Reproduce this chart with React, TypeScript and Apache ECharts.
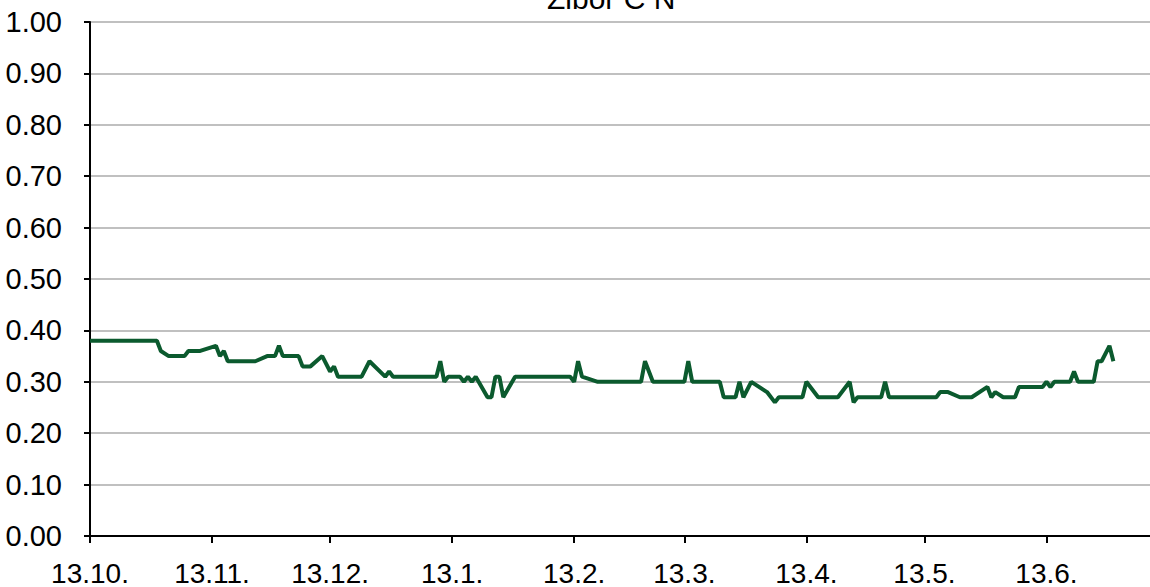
import React, { useEffect, useRef } from "react";
import * as echarts from "echarts";

const titleText = "Zibor C N";

const dates: string[] = [
  "2012-10-13", "2012-10-30", "2012-10-31", "2012-11-02", "2012-11-06", "2012-11-07", "2012-11-10",
  "2012-11-14", "2012-11-15", "2012-11-16", "2012-11-17", "2012-11-24", "2012-11-27", "2012-11-29",
  "2012-11-30", "2012-12-01", "2012-12-05", "2012-12-06", "2012-12-08", "2012-12-11", "2012-12-13",
  "2012-12-14", "2012-12-15", "2012-12-21", "2012-12-23", "2012-12-27", "2012-12-28", "2012-12-29",
  "2013-01-09", "2013-01-10", "2013-01-11", "2013-01-12", "2013-01-15", "2013-01-16", "2013-01-17",
  "2013-01-18", "2013-01-19", "2013-01-22", "2013-01-23", "2013-01-24", "2013-01-25", "2013-01-26",
  "2013-01-29", "2013-02-12", "2013-02-13", "2013-02-14", "2013-02-15", "2013-02-19", "2013-03-02",
  "2013-03-03", "2013-03-05", "2013-03-13", "2013-03-14", "2013-03-15", "2013-03-22", "2013-03-23",
  "2013-03-26", "2013-03-27", "2013-03-28", "2013-03-30", "2013-04-03", "2013-04-05", "2013-04-06",
  "2013-04-12", "2013-04-13", "2013-04-16", "2013-04-21", "2013-04-24", "2013-04-25", "2013-04-26",
  "2013-05-02", "2013-05-03", "2013-05-04", "2013-05-16", "2013-05-17", "2013-05-19", "2013-05-22",
  "2013-05-25", "2013-05-29", "2013-05-30", "2013-05-31", "2013-06-02", "2013-06-05", "2013-06-06",
  "2013-06-12", "2013-06-13", "2013-06-14", "2013-06-15", "2013-06-19", "2013-06-20", "2013-06-21",
  "2013-06-25", "2013-06-26", "2013-06-27", "2013-06-29", "2013-06-30",
];

const values: number[] = [
  0.38, 0.38, 0.36, 0.35, 0.35, 0.36, 0.36,
  0.37, 0.35, 0.36, 0.34, 0.34, 0.35, 0.35,
  0.37, 0.35, 0.35, 0.33, 0.33, 0.35, 0.32,
  0.33, 0.31, 0.31, 0.34, 0.31, 0.32, 0.31,
  0.31, 0.34, 0.30, 0.31, 0.31, 0.30, 0.31,
  0.30, 0.31, 0.27, 0.27, 0.31, 0.31, 0.27,
  0.31, 0.31, 0.30, 0.34, 0.31, 0.30, 0.30,
  0.34, 0.30, 0.30, 0.34, 0.30, 0.30, 0.27,
  0.27, 0.30, 0.27, 0.30, 0.28, 0.26, 0.27,
  0.27, 0.30, 0.27, 0.27, 0.30, 0.26, 0.27,
  0.27, 0.30, 0.27, 0.27, 0.28, 0.28, 0.27,
  0.27, 0.29, 0.27, 0.28, 0.27, 0.27, 0.29,
  0.29, 0.30, 0.29, 0.30, 0.30, 0.32, 0.30,
  0.30, 0.34, 0.34, 0.37, 0.34,
];

const tickDates: string[] = [
  "2012-10-13", "2012-11-13", "2012-12-13", "2013-01-13", "2013-02-13",
  "2013-03-13", "2013-04-13", "2013-05-13", "2013-06-13",
];

const axisStart = "2012-10-13";
const axisSpanDays = 269.3;

const DAY = 86400000;

function ts(s: string): number {
  const [y, m, d] = s.split("-").map(Number);
  return Date.UTC(y, m - 1, d);
}

function dayOffset(s: string): number {
  return Math.round((ts(s) - ts(axisStart)) / DAY);
}

const FONT = "'Liberation Sans', Arial, sans-serif";

export default function App() {
  const ref = useRef<HTMLDivElement>(null);

  useEffect(() => {
    document.body.style.margin = "0";
    if (!ref.current) return;
    const chart = echarts.init(ref.current, undefined, { renderer: "svg" });
    const tickDays = tickDates.map(dayOffset);
    const startT = ts(axisStart);

    chart.setOption({
      animation: false,
      backgroundColor: "#ffffff",
      grid: { left: 90, right: 0, top: 22, bottom: 50, containLabel: false },
      graphic: [
        {
          type: "text",
          left: 547,
          top: -17,
          style: {
            text: titleText,
            font: `30px ${FONT}`,
            fill: "#000000",
          },
        },
      ],
      xAxis: {
        type: "value",
        min: 0,
        max: axisSpanDays,
        axisLine: { show: true, lineStyle: { color: "#000000", width: 2 } },
        axisTick: {
          show: true,
          inside: false,
          length: 7,
          customValues: tickDays,
          lineStyle: { color: "#000000", width: 2 },
        },
        axisLabel: {
          customValues: tickDays,
          margin: 23,
          color: "#000000",
          fontSize: 28,
          fontFamily: FONT,
          hideOverlap: false,
          formatter: (v: number) => {
            const d = new Date(startT + Math.round(v) * DAY);
            return `${d.getUTCDate()}.${d.getUTCMonth() + 1}.`;
          },
        },
        splitLine: { show: false },
      },
      yAxis: {
        type: "value",
        min: 0,
        max: 1,
        interval: 0.1,
        axisLine: { show: true, lineStyle: { color: "#000000", width: 2 } },
        axisTick: { show: true, inside: false, length: 6, lineStyle: { color: "#000000", width: 2 } },
        axisLabel: {
          margin: 28,
          color: "#000000",
          fontSize: 29,
          fontFamily: FONT,
          formatter: (v: number) => v.toFixed(2),
        },
        splitLine: { show: true, lineStyle: { color: "#c0c0c0", width: 2 } },
      },
      series: [
        {
          type: "line",
          data: dates.map((d, i) => [dayOffset(d), values[i]]),
          showSymbol: false,
          symbol: "none",
          lineStyle: { color: "#0b5a2e", width: 4 },
          itemStyle: { color: "#0b5a2e" },
          clip: false,
        },
      ],
    });

    return () => {
      chart.dispose();
    };
  }, []);

  return <div ref={ref} style={{ width: 1150, height: 587 }} />;
}
